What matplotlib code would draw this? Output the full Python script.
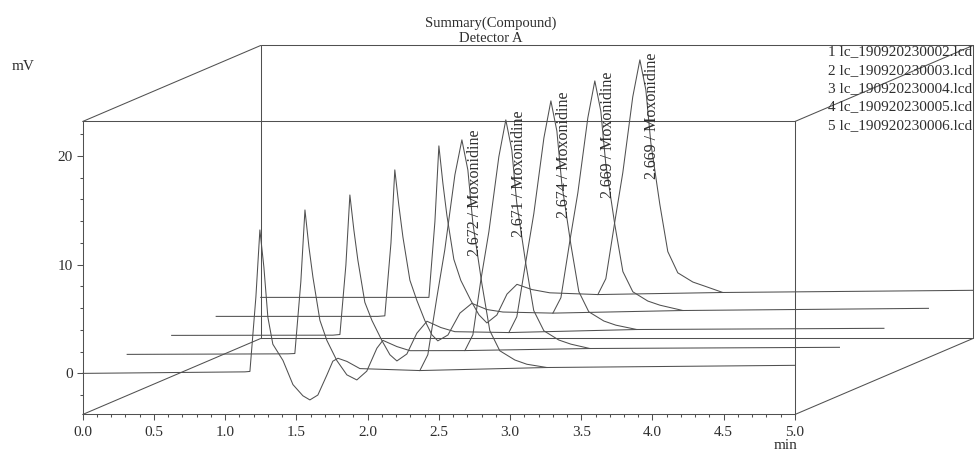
import matplotlib
matplotlib.use("Agg")
import matplotlib.pyplot as plt
from matplotlib import transforms
from matplotlib.ticker import MultipleLocator

plt.rcParams['font.family'] = ['Liberation Serif', 'DejaVu Serif']

# ---- chromatogrammes (min, mV) ----
t1 = [0.0, 1.139, 1.174, 1.216, 1.244, 1.272, 1.300, 1.335, 1.406, 1.476, 1.546, 1.595, 1.651, 1.714,
      1.756, 1.792, 1.855, 1.946, 2.367, 2.423, 2.486, 2.542, 2.613, 2.662, 2.704, 2.739, 2.802, 2.858,
      2.928, 3.034, 3.118, 3.259, 5.0]
mv1 = [0.0, 0.14, 0.18, 7.03, 13.19, 9.78, 5.17, 2.68, 1.19, -1.03, -2.06, -2.44, -1.99, -0.16,
       1.12, 1.39, 1.10, 0.44, 0.26, 1.72, 6.96, 11.36, 18.26, 21.47, 18.70, 13.81, 8.27, 3.93,
       2.08, 1.23, 0.84, 0.54, 0.74]
t2 = [0.0, 1.128, 1.177, 1.219, 1.248, 1.276, 1.304, 1.353, 1.402, 1.472, 1.542, 1.612, 1.682, 1.753,
      1.795, 1.893, 1.985, 2.371, 2.427, 2.483, 2.539, 2.609, 2.658, 2.700, 2.735, 2.798, 2.854, 2.925,
      3.030, 3.115, 3.248, 5.0]
mv2 = [0.0, 0.05, 0.08, 6.66, 13.28, 9.87, 7.10, 3.13, 1.28, -0.57, -1.88, -2.35, -1.54, 0.57,
       1.29, 0.72, 0.34, 0.35, 1.81, 6.86, 11.27, 18.17, 21.56, 18.79, 13.90, 8.37, 4.03, 2.17,
       1.32, 0.94, 0.54, 0.65]
t3 = [0.0, 1.132, 1.181, 1.223, 1.251, 1.279, 1.307, 1.356, 1.406, 1.476, 1.532, 1.581, 1.651, 1.721,
      1.792, 1.890, 1.988, 2.367, 2.423, 2.486, 2.542, 2.613, 2.662, 2.704, 2.739, 2.802, 2.858, 2.928,
      3.034, 3.118, 3.265, 5.0]
mv3 = [0.0, 0.02, 0.08, 6.47, 12.91, 9.69, 6.92, 3.04, 1.37, -0.48, -1.78, -2.35, -1.71, 0.20,
       1.30, 0.72, 0.34, 0.26, 1.72, 6.77, 11.18, 18.16, 21.56, 18.79, 13.90, 8.37, 4.03, 2.17,
       1.32, 0.94, 0.54, 0.65]
t4 = [0.0, 1.135, 1.184, 1.227, 1.254, 1.282, 1.311, 1.360, 1.409, 1.465, 1.514, 1.556, 1.627, 1.711,
      1.795, 1.900, 2.013, 2.364, 2.420, 2.483, 2.539, 2.609, 2.658, 2.700, 2.735, 2.798, 2.855, 2.925,
      3.030, 3.115, 3.276, 5.0]
mv4 = [0.0, 0.0, 0.05, 6.75, 13.47, 10.24, 7.29, 3.32, 1.46, -0.39, -1.69, -2.25, -1.71, 0.30,
       1.20, 0.63, 0.40, 0.30, 1.72, 6.96, 11.37, 18.26, 21.65, 18.88, 14.00, 8.46, 4.12, 2.26,
       1.41, 1.03, 0.54, 0.74]
t5 = [0.0, 1.139, 1.181, 1.223, 1.251, 1.279, 1.307, 1.356, 1.405, 1.476, 1.532, 1.588, 1.658, 1.729,
      1.799, 1.904, 2.030, 2.367, 2.423, 2.486, 2.542, 2.612, 2.662, 2.704, 2.739, 2.802, 2.858, 2.928,
      3.034, 3.118, 3.244, 5.0]
mv5 = [0.0, 0.0, 0.0, 6.94, 13.93, 10.51, 7.56, 3.50, 1.56, -0.30, -1.60, -2.35, -1.62, 0.30,
       1.20, 0.72, 0.42, 0.26, 1.72, 6.96, 11.46, 18.44, 21.84, 19.07, 14.18, 8.55, 4.21, 2.26,
       1.41, 1.03, 0.45, 0.65]

# ligne de base d'integration du pic Moxonidine
base_t0 = [2.367, 2.371, 2.367, 2.364, 2.367]
base_t1 = [3.259, 3.248, 3.265, 3.276, 3.244]
base_mv0 = [0.26, 0.35, 0.26, 0.30, 0.26]
base_mv1 = [0.54, 0.54, 0.54, 0.54, 0.45]

ret_times = [2.672, 2.671, 2.674, 2.669, 2.669]
compound = "Moxonidine"
files = ["lc_190920230002.lcd", "lc_190920230003.lcd", "lc_190920230004.lcd",
         "lc_190920230005.lcd", "lc_190920230006.lcd"]

traces = [(t1, mv1), (t2, mv2), (t3, mv3), (t4, mv4), (t5, mv5)]

LC = "#505050"
TC = "#2e2e2e"
DX, DY = 44.5, 19.0   # decalage en pixels entre deux traces (effet 3D)

fig = plt.figure(figsize=(9.76, 4.53), dpi=100)
ax = fig.add_axes([0.0847, 0.0850, 0.7298, 0.6468])
ax.set_xlim(0, 5.0)
ax.set_ylim(-3.78, 23.16)

for k, (t, mv) in enumerate(traces):
    tr = transforms.offset_copy(ax.transData, fig=fig, x=DX * k, y=DY * k, units='dots')
    ax.plot(t, mv, color=LC, lw=0.75, transform=tr, clip_on=False)
    ax.plot([base_t0[k], base_t1[k]], [base_mv0[k], base_mv1[k]], color=LC, lw=0.75,
            transform=tr, clip_on=False)
    ax.text(ret_times[k] + 0.08, 16.65, "%.3f / %s" % (ret_times[k], compound), rotation=90,
            ha='center', va='center', fontsize=11.5, color=TC, transform=tr, clip_on=False)

# face arriere + aretes de profondeur
n = len(traces) - 1
back = transforms.offset_copy(ax.transAxes, fig=fig, x=DX * n, y=DY * n, units='dots')
ax.plot([0, 1, 1, 0, 0], [0, 0, 1, 1, 0], color=LC, lw=0.75, transform=back, clip_on=False)
for cx, cy in [(0, 0), (0, 1), (1, 1), (1, 0)]:
    ax.annotate("", xy=(cx, cy), xycoords='axes fraction', xytext=(DX * n, DY * n),
                textcoords='offset pixels',
                arrowprops=dict(arrowstyle='-', color=LC, lw=0.75, shrinkA=0, shrinkB=0))

for s in ax.spines.values():
    s.set_color(LC); s.set_linewidth(0.75)
ax.xaxis.set_major_locator(MultipleLocator(0.5))
ax.xaxis.set_minor_locator(MultipleLocator(0.1))
ax.yaxis.set_major_locator(MultipleLocator(10))
ax.yaxis.set_minor_locator(MultipleLocator(2))
ax.xaxis.set_major_formatter(lambda v, p: "%.1f" % v)
ax.tick_params(which='both', direction='out', color=LC, width=0.75, labelcolor=TC, labelsize=11)
ax.tick_params(axis='x', which='major', length=4, pad=4)
ax.tick_params(axis='x', which='minor', length=2.5)
ax.tick_params(axis='y', which='major', length=4, pad=3)
ax.tick_params(axis='y', which='minor', length=2.5)

ax.annotate("min", xy=(1, 0), xycoords='axes fraction', xytext=(-9, -31), textcoords='offset pixels',
            ha='center', va='center', fontsize=11, color=TC)
fig.text(23 / 976, 1 - 67 / 453, "mV", ha='center', va='center', fontsize=11, color=TC)
fig.text(491 / 976, 1 - 23 / 453, "Summary(Compound)", ha='center', va='center', fontsize=10.5, color=TC)
fig.text(491 / 976, 1 - 39 / 453, "Detector A", ha='center', va='center', fontsize=10.5, color=TC)
for i, f in enumerate(files):
    fig.text(828 / 976, 1 - (52 + 18.3 * i) / 453, "%d %s" % (i + 1, f), ha='left', va='center',
             fontsize=11, color=TC)

fig.savefig("out.png", dpi=100)
